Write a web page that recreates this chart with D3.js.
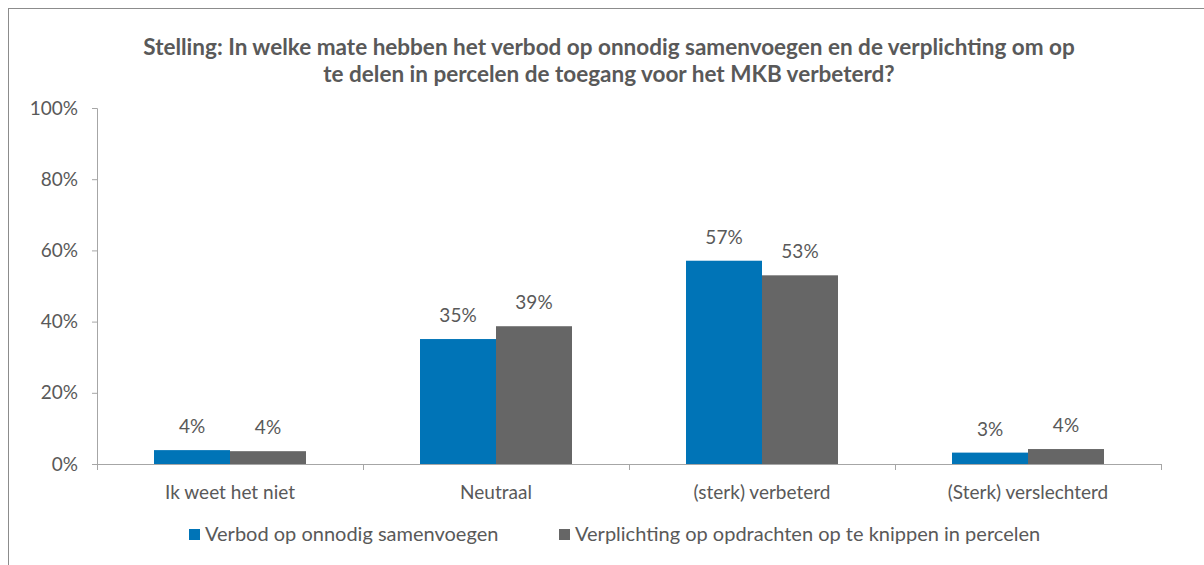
<!DOCTYPE html>
<html><head><meta charset="utf-8">
<script src="https://cdn.jsdelivr.net/npm/d3@7"></script>
<style>body{margin:0;background:#fff}svg{display:block}</style>
</head><body>
<script>
const categories = ["Ik weet het niet", "Neutraal", "(sterk) verbeterd", "(Sterk) verslechterd"];
const seriesNames = ["Verbod op onnodig samenvoegen", "Verplichting op opdrachten op te knippen in percelen"];
const verbod = [0.039, 0.351, 0.571, 0.032];
const verplichting = [0.036, 0.387, 0.530, 0.042];
const valueLabels1 = ["4%", "35%", "57%", "3%"];
const valueLabels2 = ["4%", "39%", "53%", "4%"];
const yTicks = [0, 0.2, 0.4, 0.6, 0.8, 1.0];
const colors = ["#0074B7", "#666666"];
const titleLines = ["Stelling: In welke mate hebben het verbod op onnodig samenvoegen en de verplichting om op", "te delen in percelen de toegang voor het MKB verbeterd?"];

const W = 1204, H = 565;
const font = "Lato, 'Open Sans', sans-serif";
const textColor = "#595959";
const svg = d3.select("body").append("svg").attr("width", W).attr("height", H);

svg.append("rect").attr("x", 8.5).attr("y", 8.5).attr("width", 1400).attr("height", 700)
  .attr("fill", "#fff").attr("stroke", "#8c8c8c").attr("stroke-width", 1);

const x0 = d3.scaleBand().domain(categories).range([97, 1161]).paddingInner(0.4286).paddingOuter(0.2143);
const x1 = d3.scaleBand().domain([0, 1]).range([0, x0.bandwidth()]);
const y = d3.scaleLinear().domain([0, 1]).range([464, 108]);

// title
svg.append("g").selectAll("text").data(titleLines).join("text")
  .attr("x", 609).attr("y", (d, i) => 55 + i * 27)
  .attr("text-anchor", "middle").attr("font-family", font).attr("font-weight", "bold")
  .attr("font-size", 22.5).attr("fill", textColor).text(d => d);

// y axis
const yAxis = svg.append("g").attr("transform", "translate(97,0)")
  .call(d3.axisLeft(y).tickValues(yTicks).tickFormat(d3.format(".0%")).tickSize(5).tickPadding(14));
yAxis.selectAll("path,line").attr("stroke", "#a6a6a6");
yAxis.selectAll("text").attr("font-family", font).attr("font-size", 19).attr("fill", textColor);
yAxis.select(".domain").attr("d", "M-5,108.5H0.5V464.5");

// bars
const data = categories.map((c, i) => ({c, vals: [verbod[i], verplichting[i]], labels: [valueLabels1[i], valueLabels2[i]]}));
const g = svg.append("g");
data.forEach(d => {
  [0, 1].forEach(s => {
    g.append("rect").attr("x", x0(d.c) + x1(s)).attr("y", y(d.vals[s]))
      .attr("width", x1.bandwidth()).attr("height", y(0) - y(d.vals[s]))
      .attr("fill", colors[s]);
    g.append("text").attr("x", x0(d.c) + x1(s) + x1.bandwidth() / 2).attr("y", y(d.vals[s]) - 17)
      .attr("text-anchor", "middle").attr("font-family", font).attr("font-size", 19)
      .attr("fill", textColor).text(d.labels[s]);
  });
});

// x axis
const xAxisG = svg.append("g");
xAxisG.append("line").attr("x1", 97).attr("x2", 1161).attr("y1", 464.5).attr("y2", 464.5).attr("stroke", "#a6a6a6");
const bounds = categories.map(c => x0(c) - x0.step() * x0.paddingInner() / 2 - 0.0001);
bounds.push(1161);
xAxisG.selectAll("line.t").data(bounds).join("line").attr("class", "t")
  .attr("x1", d => Math.round(d) + 0.5).attr("x2", d => Math.round(d) + 0.5)
  .attr("y1", 464).attr("y2", 470).attr("stroke", "#a6a6a6");
xAxisG.selectAll("text").data(categories).join("text")
  .attr("x", d => x0(d) + x0.bandwidth() / 2).attr("y", 499)
  .attr("text-anchor", "middle").attr("font-family", font).attr("font-size", 19)
  .attr("fill", textColor).text(d => d);

// legend
const legX = [189, 559];
const leg = svg.append("g");
seriesNames.forEach((n, i) => {
  leg.append("rect").attr("x", legX[i]).attr("y", 529).attr("width", 11).attr("height", 11).attr("fill", colors[i]);
  leg.append("text").attr("x", legX[i] + 16).attr("y", 541).attr("font-family", font).attr("font-size", 20)
    .attr("fill", textColor).text(n);
});
</script>
</body></html>
